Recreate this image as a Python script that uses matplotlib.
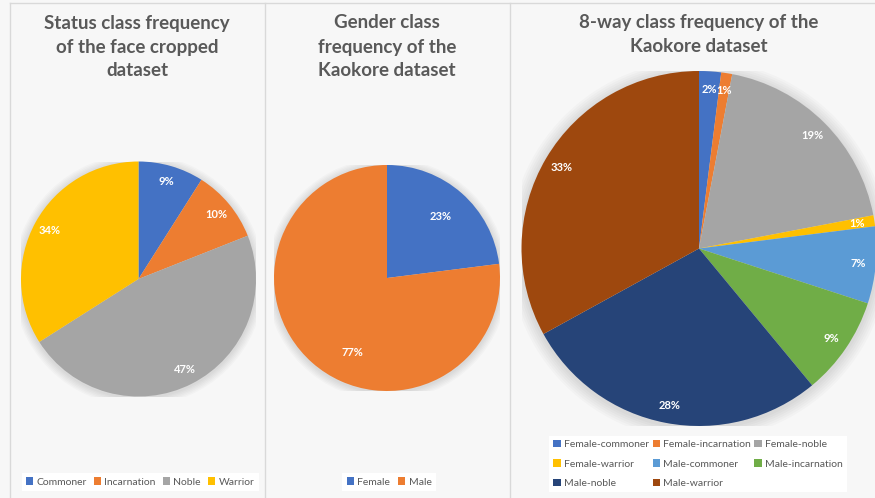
import matplotlib.pyplot as plt
from matplotlib.patches import Circle, Patch
from matplotlib.lines import Line2D

W, H = 875, 498

# data
status_labels = ["Commoner", "Incarnation", "Noble", "Warrior"]
status_values = [9, 10, 47, 34]
gender_labels = ["Female", "Male"]
gender_values = [23, 77]
eight_labels = ["Female-commoner", "Female-incarnation", "Female-noble", "Female-warrior",
                "Male-commoner", "Male-incarnation", "Male-noble", "Male-warrior"]
eight_values = [2, 1, 19, 1, 7, 9, 28, 33]

BLUE, ORANGE, GRAY, YELLOW = "#4472C4", "#ED7D31", "#A5A5A5", "#FFC000"
LBLUE, GREEN, DBLUE, BROWN = "#5B9BD5", "#70AD47", "#264478", "#9E480E"
status_colors = [BLUE, ORANGE, GRAY, YELLOW]
gender_colors = [BLUE, ORANGE]
eight_colors = [BLUE, ORANGE, GRAY, YELLOW, LBLUE, GREEN, DBLUE, BROWN]

TXT = "#595959"
plt.rcParams["font.family"] = ["Lato", "DejaVu Sans"]

fig = plt.figure(figsize=(W / 100, H / 100), dpi=100)
fig.patch.set_facecolor("#f7f7f7")


def px(x, y):
    return x / W, 1 - y / H


# panel borders
for x in (10, 265, 510):
    fig.add_artist(Line2D([x / W, x / W], [0, 1 - 3 / H], color="#d9d9d9", lw=1))
fig.add_artist(Line2D([10 / W, 1], [1 - 3 / H, 1 - 3 / H], color="#d9d9d9", lw=1))


def pie_panel(cx, cy, r, values, colors, dist):
    ax = fig.add_axes([(cx - r) / W, (H - cy - r) / H, 2 * r / W, 2 * r / H])
    # soft shadow
    for k in range(6):
        ax.add_patch(Circle((0, -0.01), 1 + 0.012 * (k + 1), color="black",
                            alpha=0.018, lw=0, zorder=0))
    wedges, texts, autotexts = ax.pie(
        values, colors=colors, startangle=90, counterclock=False, radius=1,
        autopct="%d%%", pctdistance=dist,
        wedgeprops=dict(linewidth=0),
        textprops=dict(color="white", fontsize=8, fontweight="bold"))
    ax.set_xlim(-1, 1)
    ax.set_ylim(-1, 1)
    ax.set_aspect("auto")
    ax.axis("off")
    return ax, autotexts


pie_panel(138.5, 279, 117.5, status_values, status_colors, 0.86)
ax_g, gtexts = pie_panel(387, 278, 113, gender_values, gender_colors, 0.72)
gtexts[1].set_position((-0.31, -0.66))  # Excel places the big slice label lower
pie_panel(699, 248.5, 177.5, eight_values, eight_colors, 0.9)

# titles
title_kw = dict(ha="center", va="center", fontsize=13.5, fontweight="bold", color=TXT,
                linespacing=1.5)
fig.text(*px(137, 47), "Status class frequency\nof the face cropped\ndataset", **title_kw)
fig.text(*px(387, 47), "Gender class\nfrequency of the\nKaokore dataset", **title_kw)
fig.text(*px(699, 34.5), "8-way class frequency of the\nKaokore dataset", **title_kw)

leg_kw = dict(loc="center", frameon=True, facecolor="white", edgecolor="none",
              fontsize=7.5, labelcolor=TXT, handlelength=0.7, handleheight=0.7,
              handletextpad=0.3, borderpad=0.4, fancybox=False, framealpha=1)


def handles(labels, colors):
    return [Patch(facecolor=c, label=l) for l, c in zip(labels, colors)]


fig.legend(handles=handles(status_labels, status_colors), ncol=4, columnspacing=0.7,
           bbox_to_anchor=px(140, 482), **leg_kw)
fig.legend(handles=handles(gender_labels, gender_colors), ncol=2, columnspacing=0.8,
           bbox_to_anchor=px(389, 482), **leg_kw)

h8 = handles(eight_labels, eight_colors)
order = [0, 3, 6, 1, 4, 7, 2, 5]
fig.legend(handles=[h8[i] for i in order], ncol=3, columnspacing=0.35,
           labelspacing=0.95, bbox_to_anchor=px(698, 464), **leg_kw)

fig.savefig("out.png", dpi=100, facecolor=fig.get_facecolor())
